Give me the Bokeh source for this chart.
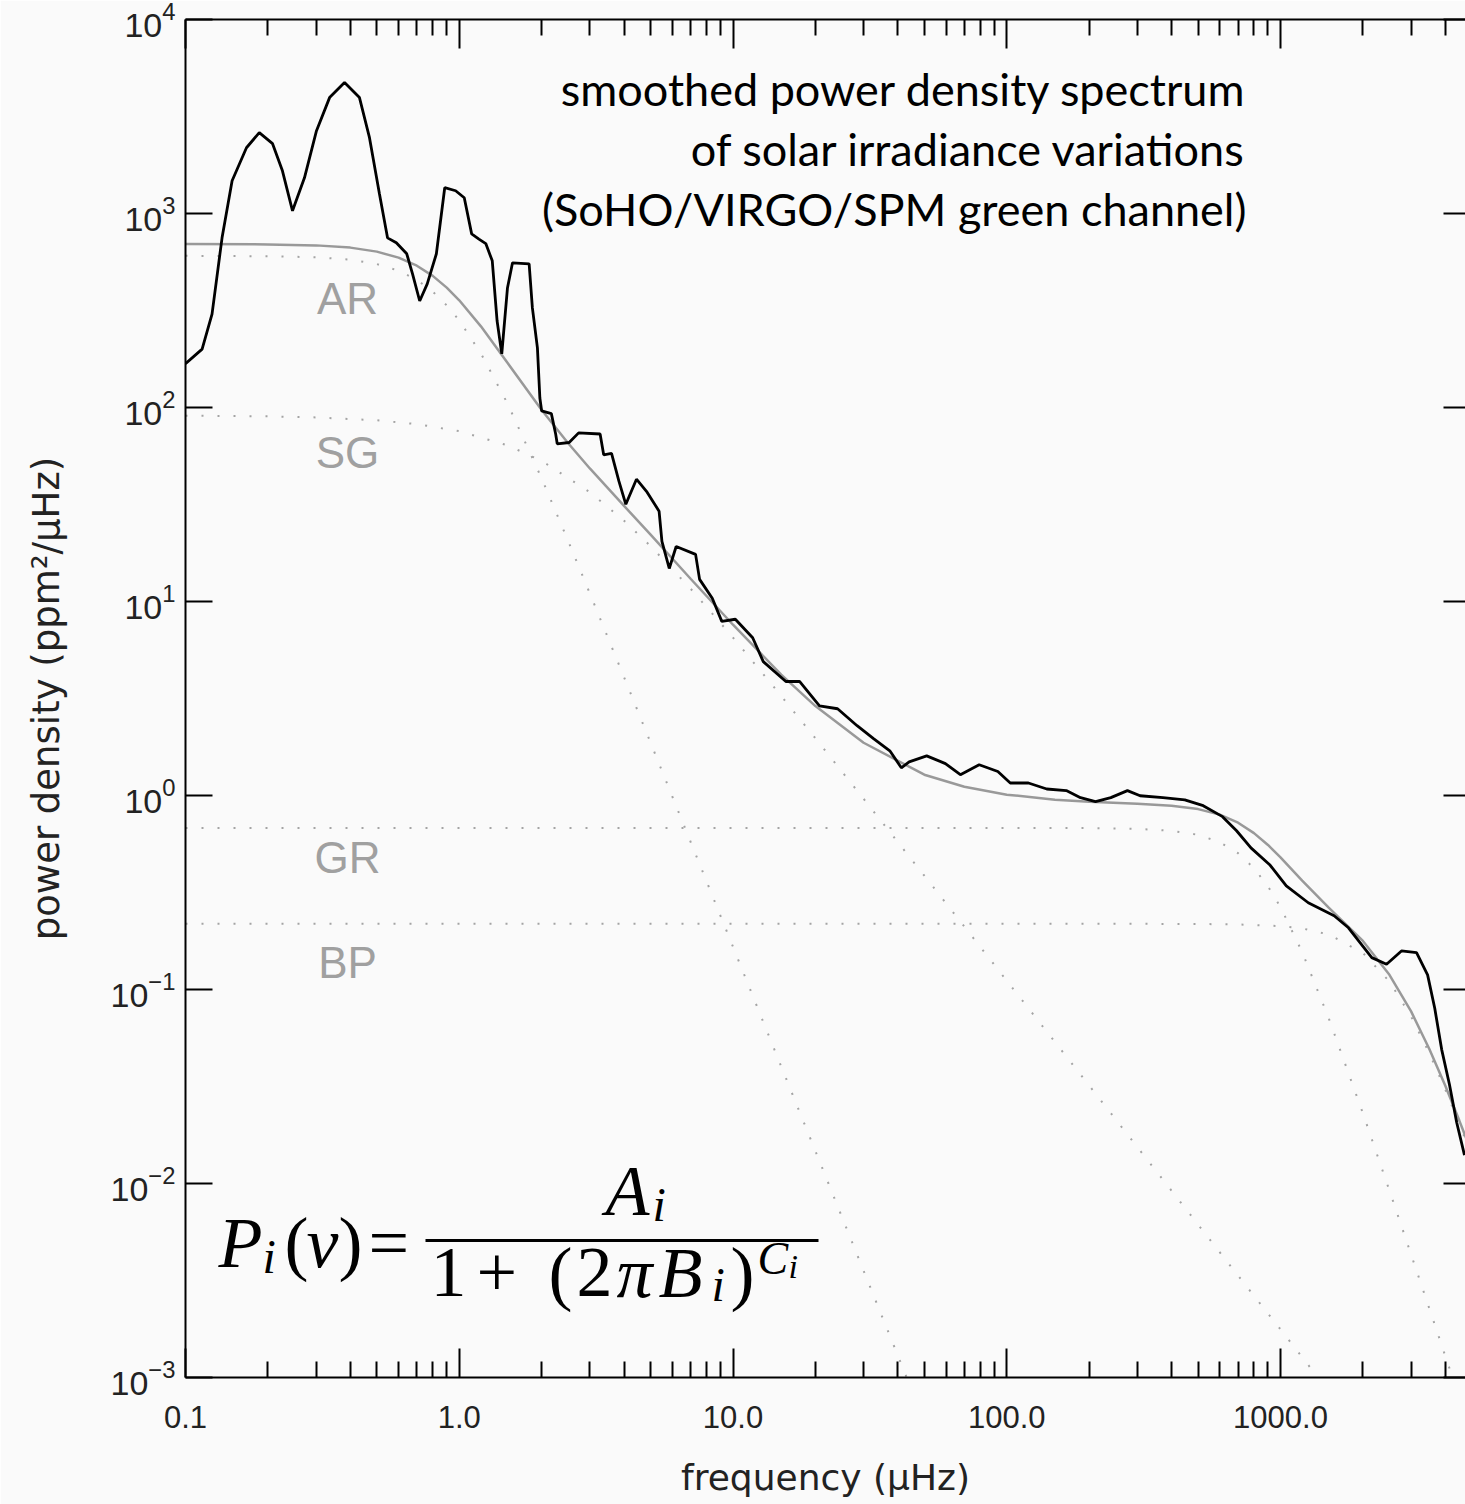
from bokeh.plotting import figure
from bokeh.models import FixedTicker, LogAxis, LogTickFormatter, Label, BoxAnnotation
from bokeh.embed import file_html
from bokeh.resources import INLINE

# ---------------- data ----------------
# smoothed power density spectrum (black)
freq_obs = [0.100, 0.115, 0.125, 0.136, 0.148, 0.167, 0.186, 0.208, 0.226, 0.246,
            0.272, 0.301, 0.336, 0.381, 0.432, 0.470, 0.511, 0.547, 0.589, 0.643,
            0.675, 0.717, 0.764, 0.825, 0.885, 0.97, 1.043, 1.11, 1.18, 1.25,
            1.32, 1.375, 1.43, 1.50, 1.565, 1.8, 1.85, 1.93, 1.97, 2.0,
            2.17, 2.25, 2.28, 2.52, 2.73, 3.27, 3.37, 3.6, 3.83, 4.06,
            4.44, 4.83, 5.37, 5.5, 5.85, 6.2, 7.3, 7.55, 8.4, 9.1,
            10.2, 11.8, 12.9, 15.6, 17.5, 20.7, 24.1, 28.4, 32.7, 37.4,
            41.2, 44.0, 51.0, 59.7, 67.7, 79.3, 92.8, 103, 120, 140,
            165, 186, 211, 240, 276, 307, 372, 447, 522, 614,
            691, 780, 913, 1050, 1263, 1570, 1771, 2155, 2440, 2766,
            3140, 3446, 3660, 3880, 4140, 4400, 4700]
power_obs = [168, 200, 303, 749, 1475, 2183, 2610, 2290, 1660, 1032,
             1527, 2673, 3957, 4731, 3957, 2460, 1265, 749, 706, 620,
             488, 354, 434, 620, 1358, 1310, 1205, 785, 738, 700,
             570, 279, 189, 413, 557, 550, 326, 203, 112, 96,
             93, 73, 65, 66, 74, 73, 57, 58, 41.7, 31.7,
             42.7, 37, 29.2, 20.4, 14.8, 19.2, 17.5, 13, 10.4, 7.9,
             8.1, 6.5, 4.9, 3.87, 3.87, 2.9, 2.8, 2.29, 1.96, 1.70,
             1.39, 1.49, 1.60, 1.46, 1.28, 1.44, 1.33, 1.16, 1.16, 1.08,
             1.06, 0.975, 0.93, 0.975, 1.06, 0.997, 0.975, 0.95, 0.886, 0.778,
             0.658, 0.537, 0.44, 0.342, 0.28, 0.24, 0.208, 0.146, 0.135, 0.158,
             0.155, 0.119, 0.080, 0.049, 0.0325, 0.0207, 0.014]

# AR component (dotted)
ar_freq = [0.1, 0.2, 0.3, 0.4, 0.5, 0.6, 0.7, 0.8, 0.9, 1.0, 1.2, 1.5, 2, 2.5, 3,
           4, 5, 7, 10, 15, 20, 30, 45]
ar_power = [605, 602, 595, 578, 549, 507, 455, 396, 336, 281, 190, 105, 43.1, 20.5, 11.0,
            4.07, 1.87, 0.577, 0.166, 0.0401, 0.0147, 0.00355, 0.00086]

# SG component (dotted)
sg_freq = [0.1, 0.2, 0.3, 0.5, 0.7, 1, 1.5, 2, 3, 4, 5, 7, 10, 15, 20, 30, 50, 70,
           100, 150, 200, 300, 500, 700, 1000, 1500]
sg_power = [90.7, 90.0, 88.9, 85.9, 82.1, 75.5, 63.8, 53.1, 36.6, 26.1, 19.3, 11.64,
            6.52, 3.26, 1.97, 0.962, 0.386, 0.211, 0.111, 0.0536, 0.0320, 0.0154,
            0.00614, 0.00335, 0.00177, 0.00085]

# GR component (dotted)
gr_freq = [0.1, 100, 200, 300, 400, 500, 600, 700, 800, 900, 1000, 1200, 1500, 2000,
           2500, 3000, 3500, 4000, 4500]
gr_power = [0.68, 0.68, 0.679, 0.673, 0.658, 0.627, 0.575, 0.504, 0.422, 0.340, 0.266,
            0.156, 0.0712, 0.0230, 0.0092, 0.0043, 0.00226, 0.00129, 0.00079]

# BP component (dotted)
bp_freq = [0.1, 300, 500, 700, 1000, 1200, 1500, 2000, 2500, 3000, 3500, 4000, 4500, 5000]
bp_power = [0.218, 0.218, 0.2176, 0.2165, 0.2121, 0.2064, 0.1922, 0.1544, 0.1099, 0.0726,
            0.0468, 0.0305, 0.0203, 0.0139]

# total fit (grey solid)
fit_freq = [0.1, 0.2, 0.3, 0.4, 0.5, 0.6, 0.7, 0.8, 0.9, 1.0, 1.2, 1.5, 2, 2.5, 3, 4, 5,
            7, 10, 15, 20, 30, 50, 70, 100, 150, 200, 300, 400, 500, 600, 700, 800,
            900, 1000, 1200, 1500, 2000, 2500, 3000, 3500, 4000, 4500, 5000]
fit_power = [697, 693, 685, 667, 636, 592, 538, 477, 415, 357, 262, 170, 97.1, 65.4,
             48.5, 31.1, 22.1, 13.1, 7.59, 4.20, 2.89, 1.87, 1.28, 1.11, 1.01, 0.952,
             0.929, 0.906, 0.885, 0.851, 0.797, 0.724, 0.640, 0.556, 0.480, 0.364,
             0.264, 0.178, 0.119, 0.0771, 0.0492, 0.0319, 0.0211, 0.0144]

component_names = ["AR", "SG", "GR", "BP"]

x_tick_values = [0.1, 1, 10, 100, 1000]
x_tick_labels = ["0.1", "1.0", "10.0", "100.0", "1000.0"]
x_minor_values = [0.2, 0.3, 0.4, 0.5, 0.6, 0.7, 0.8, 0.9,
                  2, 3, 4, 5, 6, 7, 8, 9,
                  20, 30, 40, 50, 60, 70, 80, 90,
                  200, 300, 400, 500, 600, 700, 800, 900,
                  2000, 3000, 4000]
y_tick_values = [1e-3, 1e-2, 1e-1, 1, 10, 100, 1000, 10000]

title_lines = ["smoothed power density spectrum",
               "of solar irradiance variations",
               "(SoHO/VIRGO/SPM green channel)"]

# ---------------- layout ----------------
W, H = 1465, 1504
FL, FR, FT, FB = 185, 1465, 19, 1377
DEC_X = 273.75
DEC_Y = (FB - FT) / 7.0
X_MIN = 0.1
X_MAX = X_MIN * 10 ** ((FR - FL) / DEC_X)
BG = "#fafafa"


def px_x(px):
    return X_MIN * 10 ** ((px - FL) / DEC_X)


def px_y(py):
    return 10 ** (4 - (py - FT) / DEC_Y)


p = figure(width=W, height=H, x_axis_type="log", y_axis_type="log",
           x_range=(X_MIN, X_MAX), y_range=(1e-3, 1e4),
           output_backend="svg", toolbar_location=None,
           min_border_left=FL, min_border_right=0, min_border_top=FT,
           min_border_bottom=H - FB)
p.background_fill_color = BG
p.border_fill_color = BG
p.outline_line_color = None
p.xgrid.visible = False
p.ygrid.visible = False

TICK_FONT = "Liberation Sans"
LABEL_FONT = "DejaVu Sans"
TICK_COLOR = "#222222"

xa = p.xaxis[0]
xa.ticker = FixedTicker(ticks=x_tick_values, minor_ticks=x_minor_values)
xa.major_label_overrides = {v: s for v, s in zip(x_tick_values, x_tick_labels)}
xa.major_tick_in = 29
xa.major_tick_out = 0
xa.minor_tick_in = 16
xa.minor_tick_out = 0
xa.axis_line_width = 2
xa.major_tick_line_width = 2
xa.minor_tick_line_width = 2
xa.major_label_text_font = TICK_FONT
xa.major_label_text_font_size = "31px"
xa.major_label_text_color = TICK_COLOR
xa.major_label_standoff = 28
xa.axis_label = "frequency (\u03bcHz)"
xa.axis_label_text_font = LABEL_FONT
xa.axis_label_text_font_size = "36px"
xa.axis_label_text_font_style = "normal"
xa.axis_label_text_color = TICK_COLOR
xa.axis_label_standoff = 26

ya = p.yaxis[0]
ya.ticker = FixedTicker(ticks=y_tick_values, minor_ticks=[])
ya.formatter = LogTickFormatter()
ya.major_tick_in = 27
ya.major_tick_out = 0
ya.minor_tick_line_color = None
ya.axis_line_width = 2
ya.major_tick_line_width = 2
ya.major_label_text_font = TICK_FONT
ya.major_label_text_font_size = "34px"
ya.major_label_text_color = TICK_COLOR
ya.major_label_standoff = 10
ya.axis_label = "power density (ppm\u00b2/\u03bcHz)"
ya.axis_label_text_font = LABEL_FONT
ya.axis_label_text_font_size = "37px"
ya.axis_label_text_font_style = "normal"
ya.axis_label_text_color = TICK_COLOR
ya.axis_label_standoff = 40

top = LogAxis(ticker=FixedTicker(ticks=x_tick_values, minor_ticks=x_minor_values),
              major_tick_in=29, major_tick_out=0, minor_tick_in=16, minor_tick_out=0,
              axis_line_width=2, major_tick_line_width=2, minor_tick_line_width=2,
              major_label_text_font_size="1px", major_label_text_alpha=0,
              major_label_standoff=0)
p.add_layout(top, "above")

right = LogAxis(ticker=FixedTicker(ticks=y_tick_values, minor_ticks=[]),
                major_tick_in=22, major_tick_out=0, axis_line_color=None,
                major_tick_line_width=2, minor_tick_line_color=None,
                major_label_text_font_size="1px", major_label_text_alpha=0,
                major_label_standoff=0)
p.add_layout(right, "right")

# dotted components
DOT = "#a4a4a4"
for f, pw in [(ar_freq, ar_power), (sg_freq, sg_power), (gr_freq, gr_power), (bp_freq, bp_power)]:
    p.line(f, pw, line_color=DOT, line_width=2, line_dash="2 14")

# total fit
p.line(fit_freq, fit_power, line_color="#999999", line_width=2.5)

# observed spectrum
p.line(freq_obs, power_obs, line_color="black", line_width=2.8)

# component labels
comp_pos = [(347, 298), (347, 452), (347, 857), (347, 962)]
for name, (lx, ly) in zip(component_names, comp_pos):
    p.add_layout(Label(x=px_x(lx), y=px_y(ly), text=name, text_align="center",
                       text_baseline="middle", text_font="Liberation Sans",
                       text_font_size="44px", text_color="#a0a0a0"))

# title block
for line, cy in zip(title_lines, [88, 148, 208]):
    p.add_layout(Label(x=px_x(1246), y=px_y(cy), text=line, text_align="right",
                       text_baseline="middle", text_font="Lato",
                       text_font_size="45px", text_color="black"))

# formula
SERIF = "Liberation Serif"
BASE_SHIFT = -26


def piece(text, lx, by, size, italic):
    p.add_layout(Label(x=px_x(lx), y=px_y(by + BASE_SHIFT), text=text, text_align="left",
                       text_baseline="alphabetic", text_font=SERIF,
                       text_font_size=f"{size}px",
                       text_font_style="italic" if italic else "normal",
                       text_color="black"))


piece("P", 218, 1268, 72, True)
piece("i", 262, 1282, 48, True)
piece("(", 284, 1268, 72, False)
piece("\u03bd", 306, 1268, 72, True)
piece(")", 338, 1268, 72, False)
piece("=", 368, 1268, 72, False)

piece("A", 605, 1216, 72, True)
piece("i", 652, 1230, 48, True)

piece("1", 430, 1298, 72, False)
piece("+", 476, 1298, 72, False)
piece("(", 548, 1298, 72, False)
piece("2", 576, 1298, 72, False)
piece("\u03c0", 616, 1298, 72, True)
piece("B", 658, 1298, 72, True)
piece("i", 711, 1310, 48, True)
piece(")", 730, 1298, 72, False)
piece("C", 757, 1284, 46, True)
piece("i", 788, 1292, 34, True)

p.add_layout(BoxAnnotation(left=px_x(425), right=px_x(818), top=px_y(1238.5),
                           bottom=px_y(1241.5), fill_color="black", fill_alpha=1,
                           line_color=None))

open("out.html", "w").write(file_html(p, INLINE))
